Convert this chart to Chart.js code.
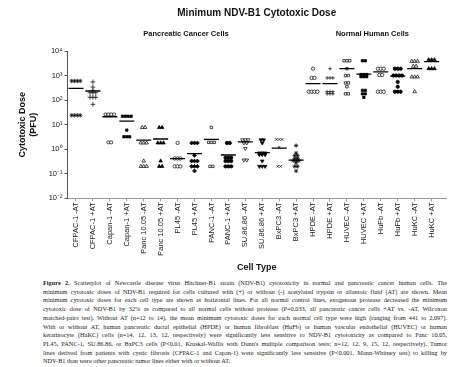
<!DOCTYPE html>
<html>
<head>
<meta charset="utf-8">
<script src="https://cdn.jsdelivr.net/npm/chart.js@4.4.0/dist/chart.umd.min.js"></script>
<style>
  html, body { margin: 0; padding: 0; background: #fff; }
  #wrap { position: relative; width: 464px; height: 278px; }
  #caption {
    position: absolute; left: 43px; top: 279px; width: 404px;
    font-family: "Liberation Serif", "Times New Roman", serif;
    font-size: 6.3px; line-height: 8.7px; color: #222;
  }
  #caption div { white-space: nowrap; text-align: justify; text-align-last: justify; }
  #caption div.last { text-align-last: left; }
</style>
</head>
<body>
<div id="wrap"><canvas id="chart"></canvas></div>
<div id="caption">
  <div><b>Figure 2.</b> Scatterplot of Newcastle disease virus Hitchner-B1 strain (NDV-B1) cytotoxicity in normal and pancreatic cancer human cells. The</div>
  <div>minimum cytotoxic doses of NDV-B1 required for cells cultured with (+) or without (-) acetylated trypsin or allantoic fluid (AT) are shown. Mean</div>
  <div>minimum cytotoxic doses for each cell type are shown as horizontal lines. For all normal control lines, exogenous protease decreased the minimum</div>
  <div>cytotoxic dose of NDV-B1 by 32% as compared to all normal cells without protease (P=0.033, all pancreatic cancer cells +AT vs. -AT, Wilcoxon</div>
  <div>matched-pairs test). Without AT (n=12 to 14), the mean minimum cytotoxic doses for each normal cell type were high (ranging from 441 to 2,097).</div>
  <div>With or without AT, human pancreatic ductal epithelial (HPDE) or human fibroblast (HuFb) or human vascular endothelial (HUVEC) or human</div>
  <div>keratinocyte (HaKC) cells (n=14, 12, 13, 12, respectively) were significantly less sensitive to NDV-B1 cytotoxicity as compared to Panc 10.05,</div>
  <div>PL45, PANC-1, SU.86.86, or BxPC3 cells (P&lt;0.01, Kruskal-Wallis with Dunn's multiple comparison tests; n=12, 12, 9, 15, 12, respectively). Tumor</div>
  <div>lines derived from patients with cystic fibrosis (CFPAC-1 and Capan-1) were significantly less sensitive (P&lt;0.001, Mann-Whitney test) to killing by</div>
  <div class="last">NDV-B1 than were other pancreatic tumor lines either with or without AT.</div>
</div>
<script>
// Minimum NDV-B1 cytotoxic dose per cell line (PFU)

const cellLabels = [
  'CFPAC-1 -AT', 'CFPAC-1 +AT', 'Capan-1 -AT', 'Capan-1 +AT',
  'Panc 10.05 -AT', 'Panc 10.05 +AT', 'PL45 -AT', 'PL45 +AT',
  'PANC-1 -AT', 'PANC-1 +AT', 'SU.86.86 -AT', 'SU.86.86 +AT',
  'BxPC3 -AT', 'BxPC3 +AT', 'HPDE -AT', 'HPDE +AT',
  'HUVEC -AT', 'HUVEC +AT', 'HuFb -AT', 'HuFb +AT', 'HuKC -AT', 'HuKC +AT'
];

// individual doses, one list per cell line
const doseValues = [
  [600, 600, 600, 600, 24, 24, 24, 24],
  [550, 340, 250, 200, 200, 200, 130, 130, 130, 67],
  [26, 26, 26, 26, 1.9, 1.9],
  [22, 22, 22, 22, 6, 3.2, 3.2, 3.2],
  [7.7, 7.7, 1.8, 1.8, 1.8, 0.33, 0.2, 0.2, 0.2],
  [7.7, 7.7, 1.8, 1.8, 1.8, 0.33, 0.2, 0.2],
  [1.8, 0.42, 0.42, 0.42, 0.2, 0.2, 0.2],
  [1.8, 1.8, 1.8, 0.56, 0.33, 0.33, 0.33, 0.2, 0.2, 0.2, 0.13],
  [7.7, 1.9, 1.9, 1.9, 0.2, 0.2],
  [1.8, 1.8, 0.45, 0.45, 0.45, 0.33, 0.33, 0.33, 0.2, 0.2, 0.2],
  [2.4, 2.4, 2.4, 1.8, 1.8, 1.07, 0.36, 0.36],
  [2.4, 2.4, 1.8, 0.7, 0.7, 0.7, 0.6, 0.6, 0.6, 0.33, 0.2, 0.2, 0.2],
  [2.5, 2.5, 2.5, 1.2, 0.2, 0.2],
  [1.4, 0.7, 0.55, 0.55, 0.42, 0.42, 0.34, 0.34, 0.34, 0.28, 0.2, 0.2, 0.13],
  [1900, 800, 800, 220, 220, 220, 220],
  [1900, 800, 800, 800, 220, 220, 220, 180, 180, 180],
  [4000, 4000, 4000, 1900, 1000, 1000, 500, 500, 350, 180, 180],
  [4000, 4000, 1100, 1100, 1100, 900, 900, 900, 250, 250, 180, 180, 130],
  [1900, 1900, 1900, 1050, 1050, 220, 220, 220],
  [1900, 1900, 1900, 1000, 1000, 1000, 1000, 550, 350, 220, 220, 220],
  [3800, 3800, 3800, 2400, 2400, 880, 880, 880, 220],
  [4400, 4400, 4400, 1900, 1900, 1900]
];

// mean (horizontal bar) per cell line
const meanDose = [300, 235, 21, 14, 2.35, 2.6, 0.41, 0.66, 2.5, 0.58, 2.0, 0.73,
                  1.1, 0.36, 470, 470, 1900, 1150, 1400, 950, 1900, 3700];

const yTicks = [0.01, 0.1, 1, 10, 100, 1000, 10000];

const groupLabels = ['Pancreatic Cancer Cells', 'Normal Human Cells'];
const groupRanges = [[0, 13], [14, 21]];

// marker per column, GraphPad-ish
const markers = [
  { style: 'star', r: 2.2 }, { style: 'cross', r: 2.4 },
  { style: 'rectRounded', open: true }, { style: 'rect' },
  { style: 'triangle', open: true, r: 2.1 }, { style: 'triangle', r: 2.1 },
  { style: 'circle', open: true }, { style: 'rectRot', r: 2 },
  { style: 'rect', open: true }, { style: 'circle' },
  { style: 'triangle', open: true, rot: 180, r: 2.1 }, { style: 'triangle', rot: 180, r: 2.1 },
  { style: 'crossRot', r: 1.8 }, { style: 'star', r: 2.2 },
  { style: 'circle', open: true }, { style: 'cross', r: 1.8 },
  { style: 'rect', open: true }, { style: 'rect' },
  { style: 'circle', open: true }, { style: 'circle' },
  { style: 'triangle', open: true, r: 2.1 }, { style: 'triangle', r: 2.1 }
];

const sup = { '-': '⁻', '0': '⁰', '1': '¹', '2': '²', '3': '³', '4': '⁴' };
const pow10 = (v) => '10' + String(Math.round(Math.log10(v))).split('').map(c => sup[c]).join('');

// spread equal values sideways like a column scatter
function spread(vals, i) {
  const count = {};
  vals.forEach(v => { count[v] = (count[v] || 0) + 1; });
  const used = {};
  return vals.map(v => {
    const k = used[v] = (used[v] || 0) + 1;
    return { x: i + (k - 1 - (count[v] - 1) / 2) * 0.17, y: v };
  });
}

const datasets = cellLabels.map((name, i) => {
  const m = markers[i];
  return {
    label: name,
    data: spread(doseValues[i], i),
    pointStyle: m.style,
    rotation: m.rot || 0,
    pointRadius: m.r || 1.7,
    borderWidth: 0.7,
    borderColor: '#000',
    backgroundColor: m.open ? '#fff' : '#000'
  };
});
datasets.push({
  label: 'Mean',
  data: meanDose.map((v, i) => ({ x: i, y: v })),
  pointStyle: 'line',
  pointRadius: 7.5,
  borderWidth: 1.3,
  borderColor: '#000',
  order: -1
});

const groupPlugin = {
  id: 'groups',
  afterDraw(chart) {
    const { ctx, chartArea } = chart;
    const xs = chart.scales.x;
    ctx.save();
    ctx.font = 'bold 7.5px "Liberation Sans", Arial, sans-serif';
    ctx.fillStyle = '#111';
    ctx.textAlign = 'center';
    ctx.textBaseline = 'middle';
    groupLabels.forEach((t, g) => {
      const [a, b] = groupRanges[g];
      const x = (xs.getPixelForValue(a) + xs.getPixelForValue(b)) / 2;
      ctx.fillText(t, x, chartArea.top - 17);
    });
    ctx.restore();
  }
};

Chart.defaults.font.family = '"Liberation Sans", Arial, sans-serif';

new Chart(document.getElementById('chart'), {
  type: 'scatter',
  data: { datasets },
  plugins: [groupPlugin],
  options: {
    responsive: true,
    maintainAspectRatio: false,
    animation: false,
    layout: { padding: { left: 14, right: 18, top: 0, bottom: 0 } },
    plugins: {
      legend: { display: false },
      tooltip: { enabled: false },
      title: {
        display: true,
        fullSize: false,
        text: 'Minimum NDV-B1 Cytotoxic Dose',
        color: '#111',
        font: { size: 10, weight: 'bold' },
        padding: { top: 7, bottom: 32 }
      }
    },
    scales: {
      x: {
        type: 'linear',
        min: -0.5,
        max: 21.85,
        afterBuildTicks: (s) => { s.ticks = cellLabels.map((_, i) => ({ value: i })); },
        afterFit: (s) => { s.height = 79.7; },
        grid: { drawOnChartArea: false, tickLength: 3, color: '#999' },
        border: { color: '#999' },
        ticks: {
          autoSkip: false, minRotation: 90, maxRotation: 90, padding: 1,
          color: '#222', font: { size: 7.5 },
          callback: (v) => cellLabels[v]
        },
        title: {
          display: true, text: 'Cell Type', color: '#111',
          font: { size: 9, weight: 'bold' }, padding: { top: 0, bottom: 5 }
        }
      },
      y: {
        type: 'logarithmic',
        min: 0.01,
        max: 10000,
        afterBuildTicks: (s) => { s.ticks = yTicks.map(v => ({ value: v })); },
        afterFit: (s) => { s.width = 53.5; },
        grid: { drawOnChartArea: false, tickLength: 3, color: '#555' },
        border: { color: '#555' },
        ticks: { padding: 2, color: '#222', font: { size: 7.5 }, callback: (v) => pow10(v) },
        title: {
          display: true, text: ['Cytotoxic Dose', '(PFU)'], color: '#111',
          font: { size: 9, weight: 'bold' }, padding: { top: 3.6 }
        }
      }
    }
  }
});
</script>
</body>
</html>
